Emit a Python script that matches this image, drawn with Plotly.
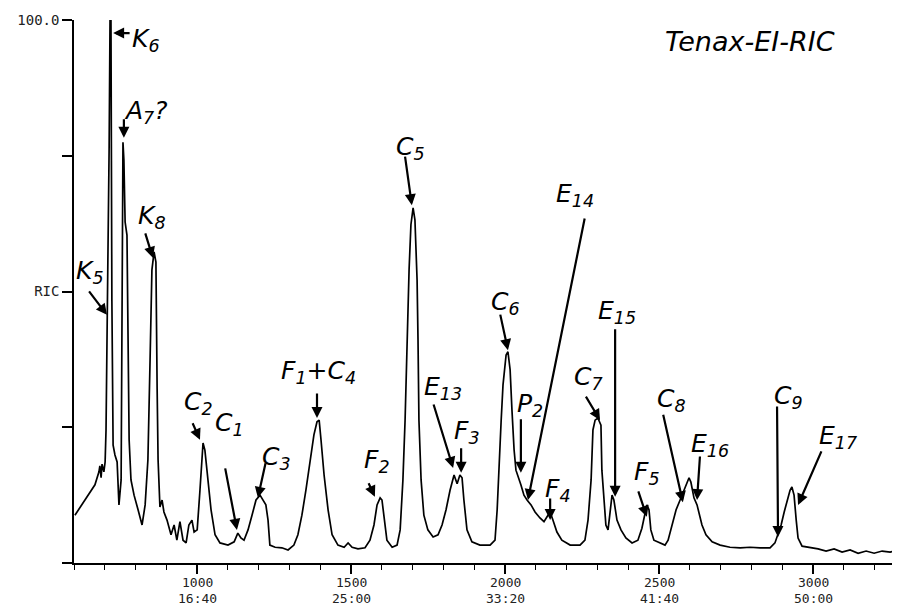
import plotly.graph_objects as go

# ---- chromatogram trace (scan number vs. relative intensity, %) ----
scans = [603, 636, 668, 681, 684, 688, 691, 697, 701, 704, 707, 710, 714, 717, 720, 723, 727, 733, 740, 746,
         753, 756, 759, 762, 766, 772, 775, 779, 785, 795, 808, 821, 831, 840, 847, 853, 860, 866, 870, 873,
         879, 886, 892, 902, 915, 925, 934, 944, 954, 964, 973, 983, 990, 1000, 1009, 1016, 1019, 1025, 1035, 1045,
         1058, 1074, 1100, 1120, 1132, 1142, 1152, 1165, 1178, 1191, 1204, 1214, 1223, 1230, 1236, 1253, 1275, 1295, 1314, 1327,
         1340, 1353, 1366, 1379, 1389, 1396, 1402, 1412, 1425, 1438, 1457, 1477, 1490, 1503, 1522, 1545, 1561, 1574, 1584, 1594,
         1600, 1607, 1616, 1633, 1649, 1659, 1668, 1675, 1681, 1688, 1694, 1701, 1707, 1714, 1717, 1720, 1727, 1736, 1749, 1766,
         1782, 1795, 1808, 1821, 1834, 1844, 1853, 1860, 1866, 1876, 1892, 1918, 1951, 1967, 1974, 1980, 1987, 1993, 2003, 2009,
         2016, 2022, 2029, 2035, 2042, 2051, 2061, 2071, 2084, 2097, 2113, 2126, 2139, 2146, 2155, 2168, 2184, 2211, 2243, 2259,
         2269, 2279, 2285, 2292, 2301, 2311, 2314, 2321, 2327, 2334, 2340, 2347, 2353, 2363, 2376, 2392, 2412, 2431, 2444, 2454,
         2460, 2467, 2473, 2483, 2503, 2519, 2529, 2542, 2555, 2568, 2578, 2587, 2597, 2603, 2613, 2623, 2629, 2639, 2652, 2672,
         2698, 2730, 2763, 2795, 2828, 2860, 2876, 2886, 2896, 2906, 2916, 2925, 2931, 2938, 2945, 2951, 2964, 2990, 3016, 3042,
         3068, 3094, 3120, 3146, 3172, 3198, 3224, 3250, 3276]
intensity = [8.8, 11.6, 14.4, 16.8, 17.9, 15.7, 18.2, 16.8, 18.6, 24.5, 46.1, 55.8, 76.1, 100.0, 100.0, 48.4, 21.7, 19.9, 18.6, 10.7,
             15.3, 48.4, 77.5, 74.2, 62.8, 60.4, 42.9, 22.7, 15.3, 12.5, 9.8, 7.0, 10.7, 19.0, 37.4, 54.0, 57.3, 55.4, 31.9, 19.0,
             10.3, 11.6, 9.4, 7.9, 5.2, 7.0, 4.2, 7.6, 4.2, 3.7, 7.0, 7.9, 5.7, 6.1, 13.4, 20.8, 22.1, 20.8, 15.3, 9.8,
             5.2, 3.7, 3.3, 3.9, 5.5, 4.6, 4.2, 6.1, 8.8, 11.6, 12.5, 11.6, 10.7, 7.9, 3.3, 2.9, 2.8, 2.4, 3.3, 5.2,
             8.8, 13.4, 19.0, 23.6, 26.0, 26.3, 22.7, 16.2, 9.8, 5.2, 3.3, 2.9, 3.7, 2.9, 2.6, 2.8, 4.2, 7.0, 10.7, 12.0,
             11.6, 7.9, 4.2, 2.9, 3.3, 6.1, 15.3, 26.3, 41.1, 54.0, 62.3, 65.4, 63.2, 52.1, 41.1, 26.3, 15.3, 8.8, 6.1, 4.8,
             5.2, 7.0, 9.8, 13.4, 16.2, 14.6, 16.2, 15.7, 11.6, 6.1, 3.9, 3.3, 3.3, 4.2, 9.8, 19.0, 26.3, 32.8, 38.3, 38.9,
             35.6, 28.2, 20.8, 17.1, 15.7, 14.4, 12.5, 11.6, 10.7, 9.4, 8.3, 7.6, 8.8, 9.4, 7.9, 5.7, 4.2, 3.3, 3.3, 4.2,
             7.9, 15.3, 24.5, 26.3, 26.7, 25.4, 17.1, 10.7, 7.0, 6.1, 8.8, 12.5, 11.6, 7.9, 6.1, 4.6, 3.7, 4.2, 6.4, 8.8,
             10.7, 9.8, 6.1, 4.2, 3.7, 3.3, 4.2, 7.0, 9.8, 11.6, 12.9, 14.4, 15.7, 14.9, 12.0, 10.7, 9.4, 7.0, 5.2, 3.9,
             3.3, 2.9, 2.8, 2.9, 2.8, 2.8, 3.7, 5.2, 7.0, 9.4, 11.6, 13.4, 14.0, 12.5, 7.9, 4.6, 3.1, 2.9, 2.6, 2.2,
             2.6, 2.0, 2.4, 1.8, 2.2, 1.8, 2.2, 2.0, 2.4]

# ---- axis ticks ----
x_tick_vals = [1000, 1500, 2000, 2500, 3000]
x_tick_scan = ["1000", "1500", "2000", "2500", "3000"]
x_tick_time = ["16:40", "25:00", "33:20", "41:40", "50:00"]
y_tick_vals = [0, 25, 50, 75, 100]
y_tick_text = ["", "", "RIC", "", "100.0"]

# ---- peak labels and the points their arrows mark ----
peak_labels = ["K<sub>5</sub>", "K<sub>6</sub>", "A<sub>7</sub>?", "K<sub>8</sub>", "C<sub>2</sub>", "C<sub>1</sub>",
               "C<sub>3</sub>", "F<sub>1</sub>+C<sub>4</sub>", "F<sub>2</sub>", "C<sub>5</sub>", "E<sub>13</sub>",
               "F<sub>3</sub>", "C<sub>6</sub>", "P<sub>2</sub>", "E<sub>14</sub>", "F<sub>4</sub>", "C<sub>7</sub>",
               "E<sub>15</sub>", "F<sub>5</sub>", "C<sub>8</sub>", "E<sub>16</sub>", "C<sub>9</sub>", "E<sub>17</sub>"]
peak_scans = [707, 727, 762, 856, 1009, 1129, 1197, 1389, 1577, 1697, 1831, 1857, 2009, 2051, 2074, 2146, 2308,
              2357, 2460, 2577, 2623, 2886, 2951]
peak_values = [45.7, 97.6, 78.3, 56.2, 22.7, 6.1, 12.0, 26.7, 12.2, 65.9, 17.5, 16.6, 39.2, 16.6, 11.6, 7.9, 26.3,
               12.2, 8.5, 11.2, 11.6, 4.8, 10.7]

# layout styling: arrow tail offsets (px) and label offsets (px) per label
arrow_off = [(-19, -25), (18, 0), (0, -20), (-8, -26), (-8, -18), (-12, -63), (8, -36), (0, -26), (-7, -15),
             (-7, -50), (-20, -65), (0, -26), (-8, -37), (0, -55), (57, -283), (0, -23), (-15, -25), (0, -169),
             (-9, -27), (-20, -89), (3, -45), (-1, -132), (24, -55)]
text_off = [(-17, 43), (33, -7), (22, 26), (-1, 41), (-1, 37), (-7, 106), (19, 40), (1, 46), (2, 36), (-1, 57),
            (-10, 80), (6, 41), (-2, 47), (9, 68), (47, 305), (8, 30), (-12, 42), (2, 185), (0, 44), (-11, 102),
            (13, 55), (10, 140), (40, 68)]

fig = go.Figure()
fig.add_trace(go.Scatter(x=scans, y=intensity, mode="lines",
                         line=dict(color="black", width=1.7), hoverinfo="skip", showlegend=False))

label_font = dict(family="DejaVu Sans", size=25, color="black", style="italic")
annotations = []
for lab, sx, sy, (ax, ay), (tx, ty) in zip(peak_labels, peak_scans, peak_values, arrow_off, text_off):
    annotations.append(dict(x=sx, y=sy, xref="x", yref="y", text="", showarrow=True,
                            ax=ax, ay=ay, arrowhead=2, arrowsize=1, arrowwidth=2.2,
                            arrowcolor="black", standoff=0))
    annotations.append(dict(x=sx, y=sy, xref="x", yref="y", text=lab, showarrow=False,
                            xshift=tx, yshift=ty, font=label_font))
annotations.append(dict(x=0.818, y=0.96, xref="paper", yref="paper", text="Tenax-EI-RIC", showarrow=False,
                        xanchor="center", yanchor="middle",
                        font=dict(family="DejaVu Sans", size=27, color="black", style="italic")))

mono = dict(family="DejaVu Sans Mono", size=13, color="#222")
for xv, s1, s2 in zip(x_tick_vals, x_tick_scan, x_tick_time):
    annotations.append(dict(x=xv, y=0, xref="x", yref="paper", text=s1, showarrow=False,
                            xanchor="center", yanchor="middle", yshift=-19, font=mono))
    annotations.append(dict(x=xv, y=0, xref="x", yref="paper", text=s2, showarrow=False,
                            xanchor="center", yanchor="middle", yshift=-35, font=mono))

# the page body adds an 8px offset, so the figure is sized 8px smaller to fit the 900x605 window
fig.update_layout(
    width=892, height=597,
    margin=dict(l=66, r=0, t=12, b=42, pad=0),
    paper_bgcolor="white", plot_bgcolor="white",
    annotations=annotations,
    xaxis=dict(range=[600, 3282], tickvals=x_tick_vals, showticklabels=False, ticks="outside",
               ticklen=9, tickwidth=1.5, tickcolor="black", showline=True, linecolor="black", linewidth=1.5,
               showgrid=False, zeroline=False, automargin=False,
               minor=dict(dtick=100, tick0=600, ticks="outside", ticklen=5, tickcolor="black", tickwidth=1.2,
                          showgrid=False)),
    yaxis=dict(range=[0, 100], tickvals=y_tick_vals, ticktext=y_tick_text, ticks="outside",
               ticklen=10, tickwidth=1.5, tickcolor="black", showline=True, linecolor="black", linewidth=1.5,
               showgrid=False, zeroline=False, tickfont=dict(family="DejaVu Sans Mono", size=14, color="#222"),
               automargin=False),
)

fig.write_html("out.html")
